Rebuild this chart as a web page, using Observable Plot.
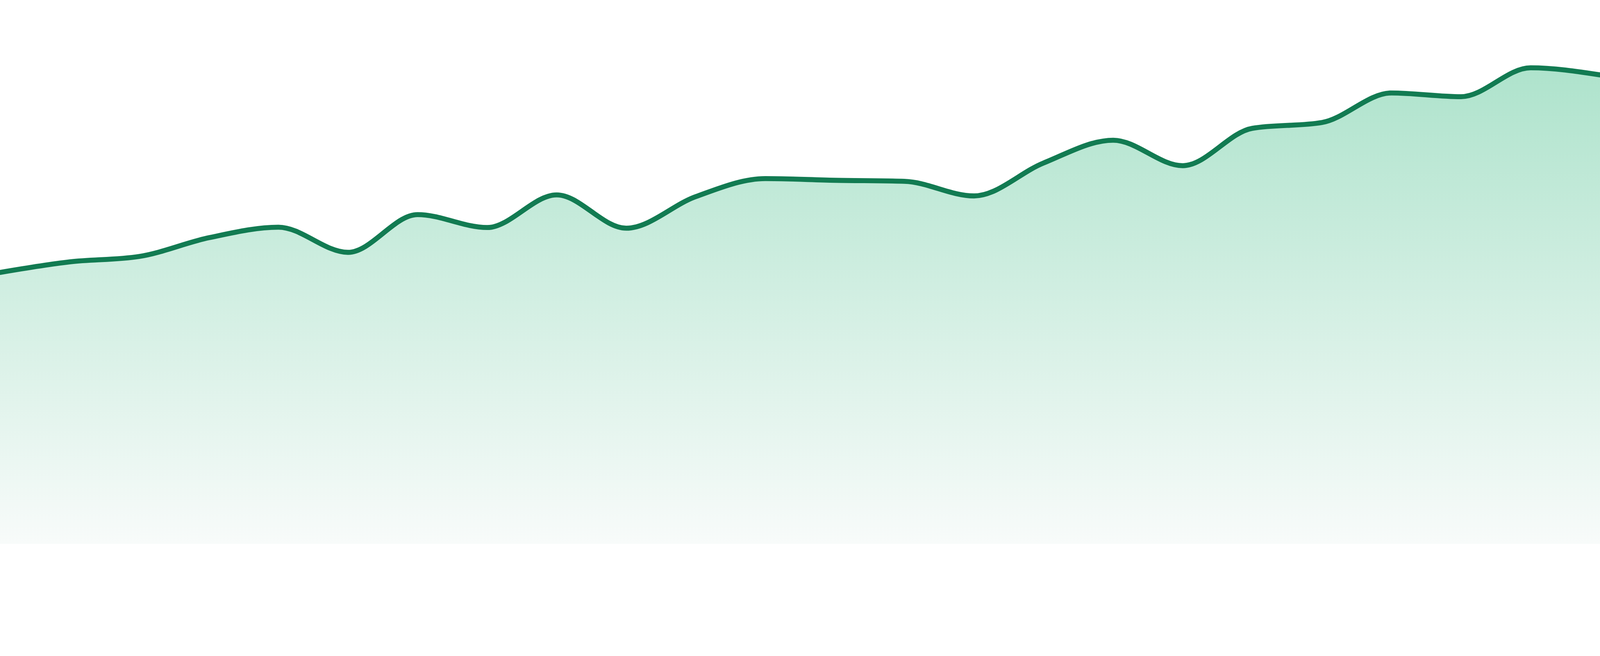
<!DOCTYPE html>
<html>
<head>
<meta charset="utf-8">
<script src="https://cdn.jsdelivr.net/npm/d3@7"></script>
<script src="https://cdn.jsdelivr.net/npm/@observablehq/plot@0.6"></script>
<style>
  html, body { margin: 0; padding: 0; background: #ffffff; overflow: hidden; }
  #chart svg { display: block; }
</style>
</head>
<body>
<div id="chart"></div>
<script>
// Periods (x positions, evenly spaced)
const periods = [0, 1, 2, 3, 4, 5, 6, 7, 8, 9, 10, 11, 12, 13, 14, 15, 16, 17, 18, 19, 20, 21, 22, 23];
// Series values
const values = [79.9, 83.0, 84.6, 90.1, 93.2, 85.8, 96.9, 93.1, 102.7, 92.9, 102.2, 107.5,
                107.0, 106.7, 102.4, 112.1, 118.8, 111.3, 122.3, 124.0, 132.7, 131.6, 140.1, 138.0];

const yDomain = [0, 160];
const lineColor = "#127b52";
const gradTop = "#aee3cc";
const gradBottom = "#f8fbfa";

const data = periods.map((p, i) => ({period: p, value: values[i]}));

const gradientDefs = () => {
  const defs = d3.create("svg:defs");
  const g = defs.append("linearGradient")
    .attr("id", "areaGradient")
    .attr("x1", 0).attr("y1", 0)
    .attr("x2", 0).attr("y2", 1);
  g.append("stop").attr("offset", "0%").attr("stop-color", gradTop);
  g.append("stop").attr("offset", "100%").attr("stop-color", gradBottom);
  return defs.node();
};

const chart = Plot.plot({
  width: 4800,
  height: 1680,
  marginTop: 0,
  marginRight: 0,
  marginLeft: 0,
  marginBottom: 48,
  x: {domain: [periods[0], periods[periods.length - 1]], axis: null},
  y: {domain: yDomain, axis: null},
  marks: [
    gradientDefs,
    Plot.areaY(data, {x: "period", y: "value", fill: "url(#areaGradient)", curve: "monotone-x"}),
    Plot.lineY(data, {x: "period", y: "value", stroke: lineColor, strokeWidth: 15, curve: "monotone-x"})
  ]
});

document.getElementById("chart").append(chart);
</script>
</body>
</html>
